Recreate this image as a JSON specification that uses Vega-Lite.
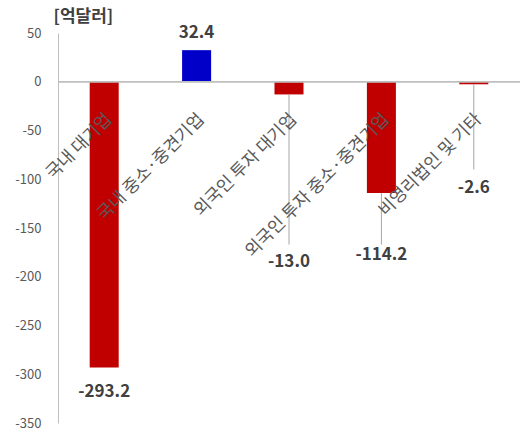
{
  "$schema": "https://vega.github.io/schema/vega-lite/v6.json",
  "width": 462,
  "height": 390,
  "autosize": "none",
  "padding": {"left": 58, "top": 33, "right": 0, "bottom": 14},
  "background": "white",
  "config": {
    "view": {"stroke": null},
    "font": "Noto Sans CJK KR",
    "locale": {"number": {"decimal": ".", "thousands": ",", "grouping": [3], "currency": ["$", ""], "minus": "-"}}
  },
  "data": {
    "values": [
      {"category": "국내 대기업", "value": -293.2, "labelY": -318, "lineEnd": null},
      {"category": "국내 중소·중견기업", "value": 32.4, "labelY": 50, "lineEnd": null},
      {"category": "외국인 투자 대기업", "value": -13.0, "labelY": -185, "lineEnd": -167},
      {"category": "외국인 투자 중소·중견기업", "value": -114.2, "labelY": -178, "lineEnd": -167},
      {"category": "비영리법인 및 기타", "value": -2.6, "labelY": -109, "lineEnd": -90}
    ]
  },
  "layer": [
    {
      "mark": {"type": "bar", "strokeWidth": 0},
      "encoding": {
        "x": {"field": "category", "type": "nominal", "sort": null, "axis": null, "scale": {"paddingInner": 0.686, "paddingOuter": 0.343}},
        "y": {
          "field": "value", "type": "quantitative",
          "scale": {"domain": [-350, 50], "nice": false, "zero": false},
          "axis": {
            "values": [50, 0, -50, -100, -150, -200, -250, -300, -350],
            "grid": false, "ticks": false,
            "domainColor": "#BFBFBF",
            "labelColor": "#595959", "labelFontSize": 13, "labelPadding": 17, "labelFont": "Noto Sans CJK KR",
            "title": "[억달러]", "titleAngle": 0, "titleAlign": "left", "titleBaseline": "middle",
            "titleX": -5, "titleY": -17, "titleFontSize": 17, "titleFontWeight": "bold", "titleColor": "#404040"
          }
        },
        "color": {"condition": {"test": "datum.value > 0", "value": "#0000C8"}, "value": "#C00000"}
      }
    },
    {
      "mark": {"type": "rule", "color": "#BFBFBF", "strokeWidth": 1},
      "encoding": {"y": {"datum": 0}}
    },
    {
      "transform": [{"filter": "isValid(datum.lineEnd)"}],
      "mark": {"type": "rule", "color": "#A6A6A6", "strokeWidth": 1},
      "encoding": {
        "x": {"field": "category", "type": "nominal", "sort": null},
        "y": {"field": "value", "type": "quantitative"},
        "y2": {"field": "lineEnd"}
      }
    },
    {
      "mark": {"type": "text", "angle": -45, "align": "right", "baseline": "middle", "fontSize": 17.5, "color": "#595959", "xOffset": 5},
      "encoding": {
        "x": {"field": "category", "type": "nominal", "sort": null},
        "y": {"datum": -36},
        "text": {"field": "category"}
      }
    },
    {
      "mark": {"type": "text", "fontWeight": "bold", "fontSize": 17, "color": "#404040", "baseline": "middle"},
      "encoding": {
        "x": {"field": "category", "type": "nominal", "sort": null},
        "y": {"field": "labelY", "type": "quantitative"},
        "text": {"field": "value", "type": "quantitative", "format": ".1f"}
      }
    }
  ]
}
